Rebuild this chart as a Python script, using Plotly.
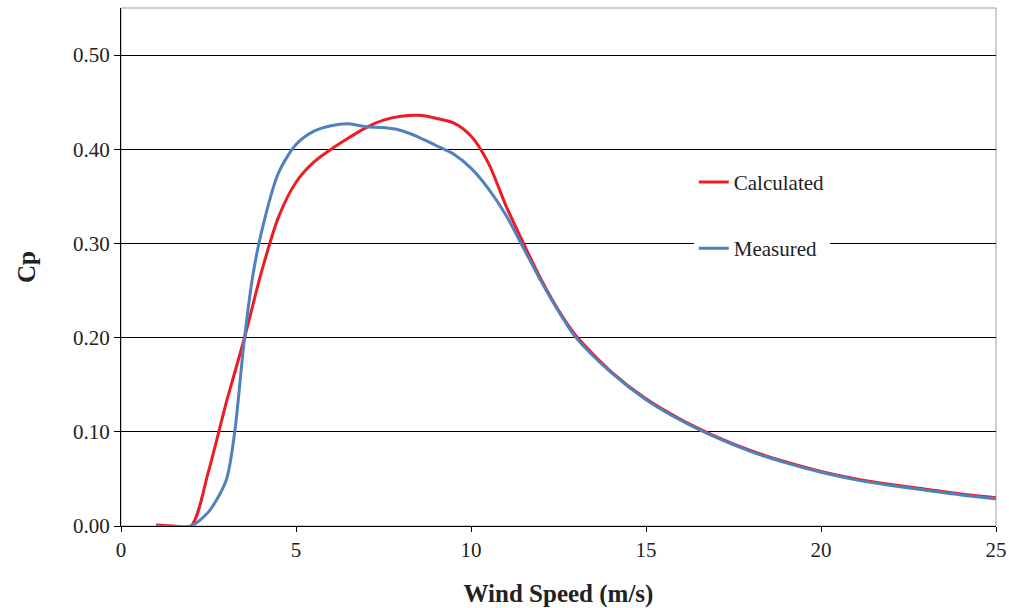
import plotly.graph_objects as go

wind_speed = [1, 1.5, 2, 2.5, 3, 3.25, 3.5, 3.75, 4, 4.5, 5, 5.5, 6, 6.5, 7, 7.5, 8, 8.5, 9, 9.5, 10,
              10.5, 11, 11.5, 12, 12.5, 13, 14, 15, 16, 17, 18, 19, 20, 21, 22, 23, 24, 25]
cp_calculated = [0.001, 0.0, 0.0, 0.058, 0.13, 0.163, 0.196, 0.232, 0.268, 0.328, 0.365, 0.386, 0.400, 0.412,
                 0.423, 0.431, 0.435, 0.436, 0.433, 0.428, 0.414, 0.385, 0.340, 0.300, 0.262, 0.229,
                 0.202, 0.164, 0.135, 0.113, 0.095, 0.080, 0.068, 0.058, 0.050, 0.044, 0.039, 0.034, 0.030]
cp_measured = [0.0, -0.001, 0.0, 0.015, 0.048, 0.10, 0.190, 0.262, 0.310, 0.375, 0.405, 0.419, 0.425, 0.427,
               0.424, 0.423, 0.420, 0.413, 0.404, 0.395, 0.380, 0.358, 0.330, 0.295, 0.260, 0.228,
               0.200, 0.163, 0.134, 0.112, 0.094, 0.079, 0.067, 0.057, 0.049, 0.043, 0.038, 0.033, 0.029]

FONT = "Liberation Serif"

fig = go.Figure()
fig.add_trace(go.Scatter(x=wind_speed, y=cp_calculated, mode="lines", name="Calculated",
                         legendgroup="a", line=dict(color="#ED1C24", width=3, shape="spline", smoothing=0.8)))
fig.add_trace(go.Scatter(x=wind_speed, y=cp_measured, mode="lines", name="Measured",
                         legendgroup="b", line=dict(color="#4F81BD", width=3, shape="spline", smoothing=0.8)))

fig.update_layout(
    width=1009, height=608,
    margin=dict(l=121, r=13, t=8, b=82, autoexpand=False),
    paper_bgcolor="white", plot_bgcolor="white",
    font=dict(family=FONT, size=21, color="#222222"),
    showlegend=True,
    legend=dict(x=0.6546, y=0.703, xanchor="left", yanchor="top", bgcolor="white",
                font=dict(family=FONT, size=21, color="#222222"),
                tracegroupgap=36, itemwidth=30),
    shapes=[dict(type="rect", xref="paper", yref="paper", x0=0, x1=1, y0=0, y1=1,
                 line=dict(color="#A0A0A0", width=1), layer="below")],
    xaxis=dict(range=[0, 25], tickvals=[0, 5, 10, 15, 20, 25], ticks="outside", ticklen=5,
               tickcolor="black", showline=True, linecolor="black", linewidth=1,
               showgrid=False, zeroline=False, automargin=False, ticklabeloverflow="allow",
               title=dict(text="<b>Wind Speed (m/s)</b>", font=dict(family=FONT, size=25, color="#222222"),
                          standoff=26)),
    yaxis=dict(range=[0, 0.55], tickvals=[0, 0.1, 0.2, 0.3, 0.4, 0.5], tickformat=".2f",
               ticks="outside", ticklen=6, tickcolor="black", showline=True, linecolor="black",
               linewidth=1, showgrid=True, gridcolor="black", gridwidth=1, zeroline=False, automargin=False,
               title=dict(text="<b>Cp</b>", font=dict(family=FONT, size=25, color="#222222"), standoff=30)),
)

fig.write_html("out.html", config={"displayModeBar": False},
               post_script="document.body.style.margin='0';document.body.style.overflow='hidden';")
